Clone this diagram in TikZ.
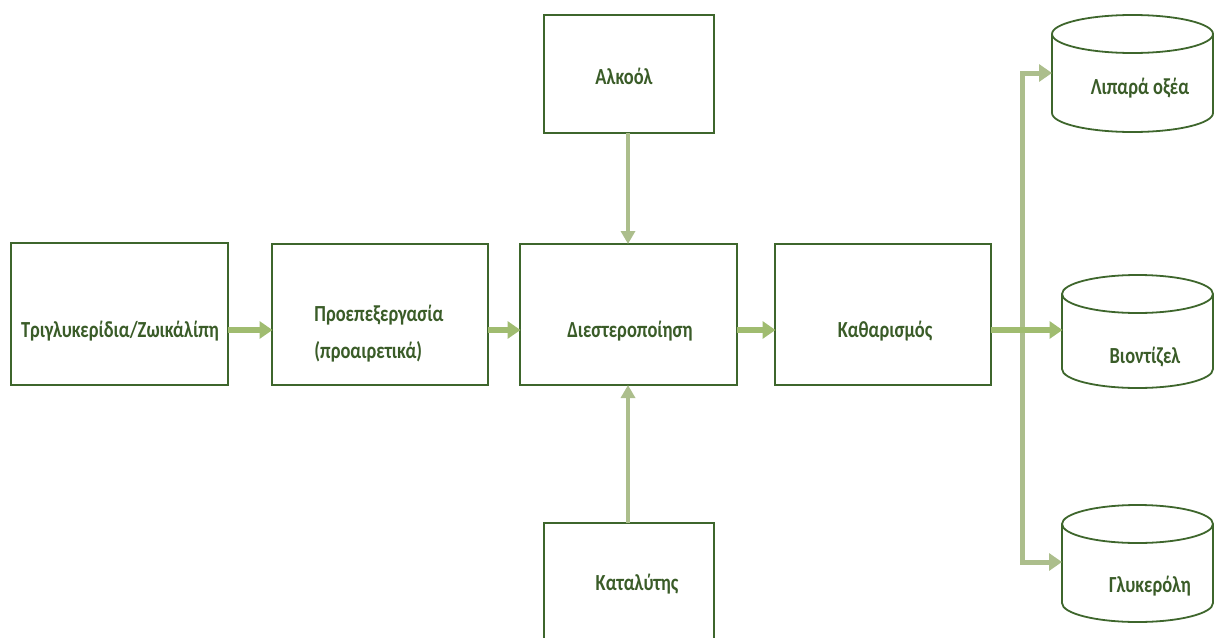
\documentclass[tikz,border=0pt]{standalone}
\usepackage{fontspec}
\setmainfont{Carlito}[FakeStretch=0.8]
\usetikzlibrary{arrows.meta}
\definecolor{boxgreen}{RGB}{62,102,44}
\definecolor{txtgreen}{RGB}{58,92,40}
\definecolor{arrgreen}{RGB}{160,188,112}
\definecolor{spinegreen}{RGB}{172,190,140}
\tikzset{
  stepbox/.style={draw=boxgreen, line width=1.8pt, fill=white},
  lbl/.style={text=txtgreen, font=\fontsize{23}{28}\selectfont\bfseries, inner sep=0pt},
  flow/.style={draw=arrgreen, line width=6.5pt, -{Triangle[length=13pt,width=17pt]}, shorten >=-0.5pt},
  feed/.style={draw=spinegreen, line width=4.5pt, -{Triangle[length=13pt,width=14pt]}},
  branch/.style={draw=spinegreen, line width=5pt, -{Triangle[length=13pt,width=17pt]}},
  tank/.style={draw=boxgreen, line width=1.8pt}
}
\newcommand{\tank}[5]{% left, right, top, bottom, ry (px)
  \draw[tank] ({#1},{#3+#5}) -- ({#1},{#4-#5})
    arc[start angle=180, end angle=360, x radius={(#2-#1)/2*1pt}, y radius=#5pt]
    -- ({#2},{#3+#5});
  \draw[tank] ({(#1+#2)/2},{#3+#5}) ellipse[x radius={(#2-#1)/2*1pt}, y radius=#5pt];
}
\begin{document}
\begin{tikzpicture}[x=1pt, y=-1pt]
\useasboundingbox (0,0) rectangle (1215,637);
\clip (0,0) rectangle (1215,637);

% process boxes
\draw[stepbox] (11,243) rectangle (228,385);
\draw[stepbox] (272,244) rectangle (488,385);
\draw[stepbox] (520,244) rectangle (737,385);
\draw[stepbox] (775,244) rectangle (991,385);
\draw[stepbox] (544,15) rectangle (714,133);
\draw[stepbox] (544,523) rectangle (714,680);

\coordinate (tri-e) at (228,330);
\coordinate (pre-w) at (272,330);
\coordinate (pre-e) at (488,330);
\coordinate (dia-w) at (520,330);
\coordinate (dia-e) at (737,330);
\coordinate (dia-n) at (628,244);
\coordinate (dia-s) at (628,385);
\coordinate (kat-w) at (775,330);
\coordinate (kat-e) at (991,330);
\coordinate (alk-s) at (628,133);
\coordinate (cat-n) at (628,523);

\node[lbl] (tri) at (120,331) {Τριγλυκερίδια/Ζωικάλίπη};
\node[lbl, align=left] (pre) at (379,334) {Προεπεξεργασία\\[9pt](προαιρετικά)};
\node[lbl] (dia) at (630,331) {Διεστεροποίηση};
\node[lbl] (kat) at (885,331) {Καθαρισμός};
\node[lbl] (alk) at (624,76) {Αλκοόλ};
\node[lbl] (cat) at (637,584) {Καταλύτης};

% storage tanks
\tank{1052}{1213}{15}{132}{19}
\tank{1062}{1213}{275}{388}{19}
\tank{1062}{1213}{505}{622}{19}
\coordinate (lip-w) at (1052,73);
\coordinate (bio-w) at (1062,330);
\coordinate (gly-w) at (1062,562);
\node[lbl] (lip) at (1140,88) {Λιπαρά οξέα};
\node[lbl] (bio) at (1145,357) {Βιοντίζελ};
\node[lbl] (gly) at (1150,586) {Γλυκερόλη};

% main flow
\draw[flow] (tri-e) -- (pre-w);
\draw[flow] (pre-e) -- (dia-w);
\draw[flow] (dia-e) -- (kat-w);
\draw[feed] (alk-s) -- (dia-n);
\draw[feed] (cat-n) -- (dia-s);

% product branches
\coordinate (spine) at (1022,330);
\draw[branch] (kat-e) -- (spine) |- (lip-w);
\draw[branch] (kat-e) -- (spine) |- (gly-w);
\draw[flow] (kat-e) -- (bio-w);
\end{tikzpicture}
\end{document}
